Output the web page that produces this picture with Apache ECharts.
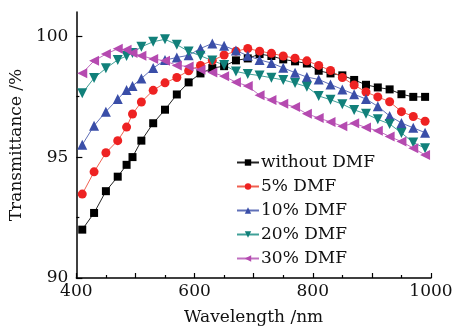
<!DOCTYPE html>
<html>
<head>
<meta charset="utf-8">
<script src="https://cdn.jsdelivr.net/npm/echarts@6/dist/echarts.min.js"></script>
<style>
  html, body { margin: 0; padding: 0; background: #fff; }
  #chart { width: 456px; height: 331px; }
</style>
</head>
<body>
<div id="chart"></div>
<script>
// wavelengths (nm)
const wavelengths = [410, 430, 450, 470, 485, 495, 510, 530, 550, 570, 590, 610, 630, 650, 670, 690,
  710, 730, 750, 770, 790, 810, 830, 850, 870, 890, 910, 930, 950, 970, 990]

// transmittance (%)
const noDMF = [92.0, 92.69, 93.59, 94.19, 94.68, 95.0, 95.68, 96.4, 96.96, 97.59, 98.09, 98.46, 98.68, 98.76, 99.0, 99.08,
  99.26, 99.18, 99.04, 98.96, 98.87, 98.57, 98.46, 98.38, 98.19, 97.99, 97.88, 97.8, 97.6, 97.49, 97.49]
const dmf5 = [93.47, 94.39, 95.18, 95.68, 96.24, 96.78, 97.28, 97.76, 98.07, 98.29, 98.57, 98.79, 98.99, 99.22, 99.38, 99.49,
  99.38, 99.29, 99.18, 99.09, 98.98, 98.79, 98.58, 98.29, 97.98, 97.69, 97.49, 97.29, 96.88, 96.68, 96.48]
const dmf10 = [95.51, 96.3, 96.88, 97.4, 97.77, 97.94, 98.25, 98.68, 99.01, 99.12, 99.21, 99.49, 99.7, 99.6, 99.41, 99.19,
  99.02, 98.89, 98.69, 98.49, 98.31, 98.21, 98.0, 97.8, 97.6, 97.4, 97.1, 96.7, 96.41, 96.21, 96.01]
const dmf20 = [97.64, 98.27, 98.67, 99.02, 99.18, 99.3, 99.56, 99.77, 99.87, 99.65, 99.37, 99.19, 98.99, 98.81, 98.54, 98.44,
  98.37, 98.28, 98.19, 98.06, 97.91, 97.53, 97.37, 97.19, 96.95, 96.79, 96.56, 96.37, 96.0, 95.6, 95.37]
const dmf30 = [98.47, 98.98, 99.26, 99.48, 99.44, 99.3, 99.19, 99.06, 98.98, 98.79, 98.75, 98.61, 98.5, 98.34, 98.1, 97.94,
  97.56, 97.36, 97.21, 97.07, 96.79, 96.62, 96.45, 96.28, 96.4, 96.22, 96.09, 95.85, 95.64, 95.37, 95.09]

const xLabels = [400, 600, 800, 1000]
const yLabels = [90, 95, 100]

const font = 'DejaVu Serif'

function makeSeries(name, values, symbol, rotate, color, lineColor, size) {
  return {
    name: name,
    type: 'line',
    data: wavelengths.map((w, i) => [w, values[i]]),
    symbol: symbol,
    symbolRotate: rotate,
    symbolSize: size,
    showAllSymbol: true,
    itemStyle: { color: color },
    lineStyle: { color: lineColor, width: 1 },
    emphasis: { disabled: true },
  }
}

let myChart = echarts.init(document.getElementById('chart'))
myChart.setOption({
  animation: false,
  backgroundColor: '#fff',
  textStyle: { fontFamily: font },
  grid: { left: 75, right: 25, top: 12, bottom: 48 },
  legend: {
    orient: 'vertical',
    left: 231,
    top: 149,
    itemWidth: 22,
    itemHeight: 8,
    itemGap: 7,
    textStyle: { fontFamily: font, fontSize: 17, color: '#111', lineHeight: 17, padding: [0, 0, 0, -3] },
    data: ['without DMF', '5% DMF', '10% DMF', '20% DMF', '30% DMF'],
  },
  xAxis: {
    type: 'value',
    min: 400,
    max: 1000,
    interval: 100,
    name: 'Wavelength /nm',
    nameLocation: 'middle',
    nameGap: 31,
    nameTextStyle: { fontFamily: font, fontSize: 17, color: '#111' },
    axisLine: { lineStyle: { color: '#000', width: 1.5 } },
    axisTick: { inside: true, length: 5, lineStyle: { color: '#000', width: 1.2 } },
    minorTick: { show: true, splitNumber: 2, length: 3, lineStyle: { color: '#000', width: 1.2 } },
    axisLabel: {
      customValues: xLabels,
      formatter: (v) => String(v),
      fontFamily: font, fontSize: 17, color: '#111', margin: 5,
    },
    splitLine: { show: false },
  },
  yAxis: [
    {
      type: 'value',
      min: 90,
      max: 101,
      name: 'Transmittance /%',
      nameLocation: 'middle',
      nameGap: 40,
      nameRotate: 90,
      nameTextStyle: { fontFamily: font, fontSize: 17, color: '#111' },
      axisLine: { show: true, lineStyle: { color: '#000', width: 1.5 } },
      axisTick: { inside: true, length: 6, customValues: yLabels, lineStyle: { color: '#000', width: 1.2 } },
      axisLabel: { customValues: yLabels, fontFamily: font, fontSize: 17, color: '#111', margin: 8 },
      splitLine: { show: false },
    },
    {
      type: 'value',
      min: 90,
      max: 101,
      position: 'left',
      axisLine: { show: false },
      axisTick: { show: true, inside: true, length: 3, customValues: [92.5, 97.5], lineStyle: { color: '#000', width: 1.2 } },
      axisLabel: { show: false },
      splitLine: { show: false },
    },
  ],
  series: [
    makeSeries('without DMF', noDMF, 'rect', 0, '#000', '#222', 8),
    makeSeries('5% DMF', dmf5, 'circle', 0, '#ee2222', '#f06050', 9),
    makeSeries('10% DMF', dmf10, 'triangle', 0, '#3a4ea8', '#6070b8', 10),
    makeSeries('20% DMF', dmf20, 'triangle', 180, '#11807a', '#40a098', 10),
    makeSeries('30% DMF', dmf30, 'triangle', 90, '#b54ab0', '#c070c0', 10),
  ],
})
</script>
</body>
</html>
